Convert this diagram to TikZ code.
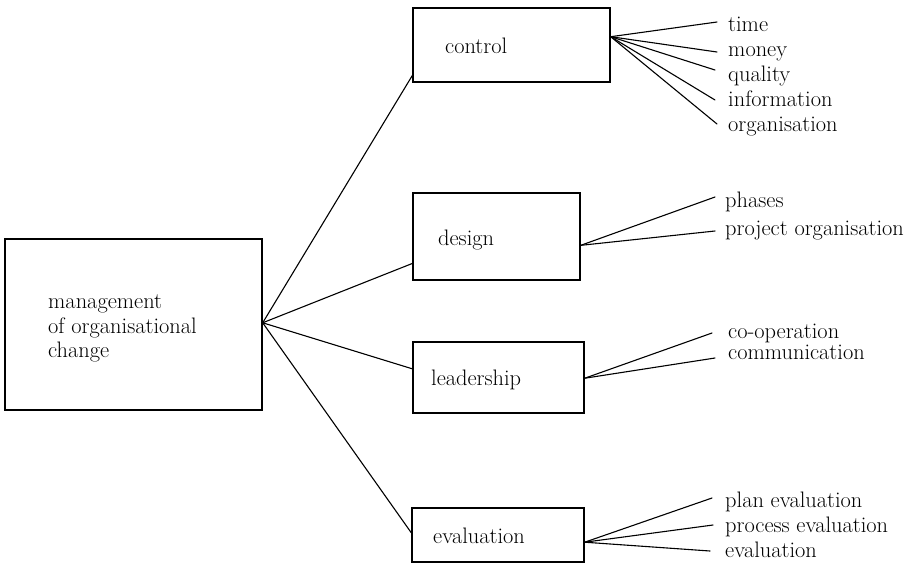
\documentclass[tikz,border=0pt]{standalone}
\usetikzlibrary{calc}
\begin{document}
\begin{tikzpicture}[x=1pt,y=-1pt,
  box/.style={draw,line width=1.4pt,rectangle,inner sep=0pt},
  txt/.style={anchor=base west,inner sep=0pt,font=\fontsize{22.4}{26}\selectfont},
  link/.style={line width=1.1pt,line cap=round}]
\useasboundingbox (0,0) rectangle (910,563);

% boxes
\node[box,minimum width=257pt,minimum height=171pt] (main) at (133.5,324.5) {};
\node[box,minimum width=197pt,minimum height=74pt]  (control) at (511.5,45) {};
\node[box,minimum width=167pt,minimum height=87pt]  (design) at (496.5,236.5) {};
\node[box,minimum width=171pt,minimum height=71pt]  (leadership) at (498.5,377.5) {};
\node[box,minimum width=172pt,minimum height=54pt]  (evaluation) at (498,535) {};

% box texts
\node[txt] (tmain1) at (48,308) {management};
\node[txt] (tmain2) at (48,333) {of organisational};
\node[txt] (tmain3) at (48,357) {change};
\node[txt] (tcontrol) at (445,53) {control};
\node[txt] (tdesign) at (438,245) {design};
\node[txt] (tleadership) at (431,385) {leadership};
\node[txt] (tevaluation) at (433,543) {evaluation};

% leaf labels
\node[txt] (time) at (728,31) {time};
\node[txt] (money) at (728,56) {money};
\node[txt] (quality) at (728,81) {quality};
\node[txt] (information) at (728,106) {information};
\node[txt] (organisation) at (728,131) {organisation};
\node[txt] (phases) at (725,207) {phases};
\node[txt] (projorg) at (725,235) {project organisation};
\node[txt] (coop) at (728,338) {co-operation};
\node[txt] (comm) at (728,359) {communication};
\node[txt] (plan) at (725,507) {plan evaluation};
\node[txt] (process) at (725,532) {process evaluation};
\node[txt] (evalleaf) at (725,557) {evaluation};

% connection points on the box edges
\coordinate (mhub) at ($(main.south east)!0.51!(main.north east)$);
\coordinate (cin)  at ($(control.south west)!0.095!(control.north west)$);
\coordinate (din)  at ($(design.south west)!0.195!(design.north west)$);
\coordinate (lin)  at ($(leadership.south west)!0.62!(leadership.north west)$);
\coordinate (ein)  at ($(evaluation.south west)!0.54!(evaluation.north west)$);
\coordinate (chub) at ($(control.south east)!0.61!(control.north east)$);
\coordinate (dhub) at ($(design.south east)!0.40!(design.north east)$);
\coordinate (lhub) at ($(leadership.south east)!0.49!(leadership.north east)$);
\coordinate (ehub) at ($(evaluation.south east)!0.37!(evaluation.north east)$);

% main branches
\draw[link] (mhub) -- (cin);
\draw[link] (mhub) -- (din);
\draw[link] (mhub) -- (lin);
\draw[link] (mhub) -- (ein);

% leaves of control
\draw[link] (chub) -- ($(time.base west)+(-11,-9)$);
\draw[link] (chub) -- ($(money.base west)+(-11,-4)$);
\draw[link] (chub) -- ($(quality.base west)+(-13,-11)$);
\draw[link] (chub) -- ($(information.base west)+(-13,-6)$);
\draw[link] (chub) -- ($(organisation.base west)+(-11,-7)$);

% leaves of design
\draw[link] (dhub) -- ($(phases.base west)+(-10,-10)$);
\draw[link] (dhub) -- ($(projorg.base west)+(-10,-4)$);

% leaves of leadership
\draw[link] (lhub) -- ($(coop.base west)+(-16,-5)$);
\draw[link] (lhub) -- ($(comm.base west)+(-13,-1)$);

% leaves of evaluation
\draw[link] (ehub) -- ($(plan.base west)+(-13,-9)$);
\draw[link] (ehub) -- ($(process.base west)+(-12,-7)$);
\draw[link] (ehub) -- ($(evalleaf.base west)+(-15,-6)$);
\end{tikzpicture}
\end{document}
